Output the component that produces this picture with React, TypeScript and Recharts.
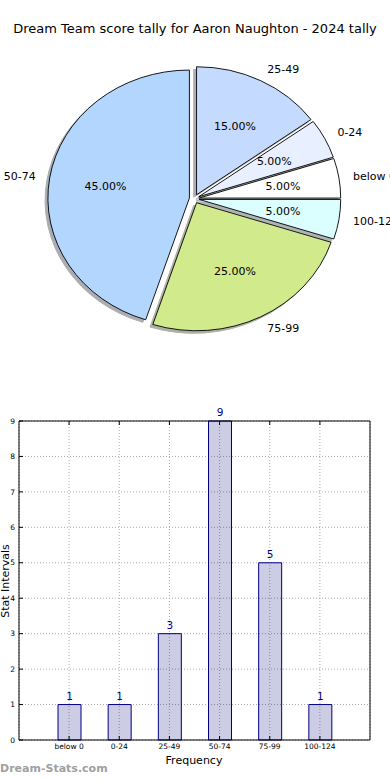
import React from 'react';
import { PieChart, Pie, Cell, BarChart, Bar, XAxis, YAxis, CartesianGrid, LabelList } from 'recharts';

// ---- data ----
const categories = ['below 0', '0-24', '25-49', '50-74', '75-99', '100-124'];
const counts = [1, 1, 3, 9, 5, 1];
const pieOrder = ['50-74', '75-99', '100-124', 'below 0', '0-24', '25-49'];
const pieColors: Record<string, string> = {
  '50-74': '#b3d6ff',
  '75-99': '#d1ea8c',
  '100-124': '#dbffff',
  'below 0': '#ffffff',
  '0-24': '#e8f0ff',
  '25-49': '#c4daff',
};
const yTicks = [0, 1, 2, 3, 4, 5, 6, 7, 8, 9];
const title = 'Dream Team score tally for Aaron Naughton - 2024 tally';

const pieData = pieOrder.map((n) => ({ name: n, value: counts[categories.indexOf(n)] }));
const barData = categories.map((c, i) => ({ name: c, value: counts[i] }));

// ---- geometry / style ----
const PIE_CX = 194.3;
const PIE_CY = 198.75;
const PIE_R = 141.5;
const RY_RATIO = 0.9046;
const EXPLODE = 0.035;
const SHADOW = 0.02;
const FONT = '"DejaVu Sans", sans-serif';
const RAD = Math.PI / 180;

function shade(hex: string, k: number) {
  const n = parseInt(hex.slice(1), 16);
  const r = (n >> 16) & 255, g = (n >> 8) & 255, b = n & 255;
  return `rgb(${Math.round(r * k)},${Math.round(g * k)},${Math.round(b * k)})`;
}

function wedgePath(cx: number, cy: number, rx: number, ry: number, a0: number, a1: number) {
  const x0 = cx + rx * Math.cos(a0 * RAD), y0 = cy - ry * Math.sin(a0 * RAD);
  const x1 = cx + rx * Math.cos(a1 * RAD), y1 = cy - ry * Math.sin(a1 * RAD);
  const large = Math.abs(a1 - a0) > 180 ? 1 : 0;
  const sweep = a1 > a0 ? 0 : 1;
  return `M${cx},${cy} L${x0},${y0} A${rx},${ry} 0 ${large} ${sweep} ${x1},${y1} Z`;
}

function origin(props: any) {
  const cx = props.cx ?? PIE_CX;
  const cy = props.cy ?? PIE_CY;
  const rx = props.outerRadius ?? PIE_R;
  const ry = rx * RY_RATIO;
  const m = (props.midAngle ?? (props.startAngle + props.endAngle) / 2) * RAD;
  return { ox: cx + EXPLODE * rx * Math.cos(m), oy: cy - EXPLODE * ry * Math.sin(m), rx, ry, m };
}

const Wedge = (props: any) => {
  const { ox, oy, rx, ry } = origin(props);
  return (
    <path
      d={wedgePath(ox, oy, rx, ry, props.startAngle, props.endAngle)}
      fill={props.fill}
      stroke="#000"
      strokeWidth={0.9}
      strokeLinejoin="round"
    />
  );
};

const ShadowWedge = (props: any) => {
  const { ox, oy, rx, ry } = origin(props);
  const c = shade(props.fill || '#ffffff', 0.3);
  return (
    <path
      d={wedgePath(ox - SHADOW * rx, oy + SHADOW * ry, rx, ry, props.startAngle, props.endAngle)}
      fill={c}
      stroke={c}
      strokeWidth={1}
      opacity={0.42}
    />
  );
};

const renderPieLabel = (props: any) => {
  const { ox, oy, rx, ry, m } = origin(props);
  const name = props.payload?.name ?? props.name;
  const pct = ((props.percent ?? 0) * 100).toFixed(2) + '%';
  const lx = ox + 1.1 * rx * Math.cos(m);
  const ly = oy - 1.1 * ry * Math.sin(m);
  const px = ox + 0.6 * rx * Math.cos(m);
  const py = oy - 0.6 * ry * Math.sin(m);
  return (
    <g>
      <text x={lx} y={ly} textAnchor={Math.cos(m) >= 0 ? 'start' : 'end'} dominantBaseline="central"
        fontSize={11} fill="#000" fontFamily={FONT}>{name}</text>
      <text x={px} y={py} textAnchor="middle" dominantBaseline="central"
        fontSize={11} fill="#000" fontFamily={FONT}>{pct}</text>
    </g>
  );
};

const emptyTick = () => '';

export default function App() {
  return (
    <div style={{ position: 'absolute', left: 0, top: 0, width: 390, height: 780, fontFamily: FONT, background: '#fff' }}>
      <div style={{ position: 'absolute', left: 0, top: 21, width: 390, textAlign: 'center', fontSize: 13, lineHeight: '16px', color: '#000', whiteSpace: 'nowrap' }}>
        {title}
      </div>
      <div style={{ position: 'absolute', left: 0, top: 0 }}>
        <PieChart width={390} height={360} margin={{ top: 0, right: 0, bottom: 0, left: 0 }}>
          <Pie data={pieData} dataKey="value" nameKey="name" cx={PIE_CX} cy={PIE_CY} outerRadius={PIE_R}
            startAngle={90} endAngle={450} isAnimationActive={false} labelLine={false}
            shape={ShadowWedge} activeShape={ShadowWedge} inactiveShape={ShadowWedge}>
            {pieData.map((d) => <Cell key={'s' + d.name} fill={pieColors[d.name]} />)}
          </Pie>
          <Pie data={pieData} dataKey="value" nameKey="name" cx={PIE_CX} cy={PIE_CY} outerRadius={PIE_R}
            startAngle={90} endAngle={450} isAnimationActive={false} labelLine={false} label={renderPieLabel}
            shape={Wedge} activeShape={Wedge} inactiveShape={Wedge}>
            {pieData.map((d) => <Cell key={d.name} fill={pieColors[d.name]} />)}
          </Pie>
        </PieChart>
      </div>
      <div style={{ position: 'absolute', left: 0, top: 400 }}>
        <BarChart width={390} height={380} data={barData} margin={{ top: 20, right: 19, bottom: 20, left: 0 }}>
          <CartesianGrid stroke="#aaaaaa" strokeDasharray="1 2" />
          <Bar dataKey="value" fill="#00007f" fillOpacity={0.2} stroke="#000080" strokeWidth={1} barSize={23} isAnimationActive={false}>
            <LabelList dataKey="value" position="top" offset={5} fill="#00008b" fontSize={10.5} fontFamily={FONT} />
          </Bar>
          <XAxis dataKey="name" padding={{ left: 25, right: 25 }} height={20} interval={0}
            tickSize={-4} tickMargin={8} axisLine={{ stroke: '#000' }} tickLine={{ stroke: '#000' }}
            tick={{ fontSize: 7.5, fill: '#000', fontFamily: FONT }} />
          <XAxis xAxisId="top" orientation="top" dataKey="name" padding={{ left: 25, right: 25 }} height={1} interval={0}
            tickSize={-4} tickFormatter={emptyTick} axisLine={{ stroke: '#000' }} tickLine={{ stroke: '#000' }} />
          <YAxis domain={[0, 9]} ticks={yTicks} width={19} interval={0}
            tickSize={-4} tickMargin={8} axisLine={{ stroke: '#000' }} tickLine={{ stroke: '#000' }}
            tick={{ fontSize: 7.5, fill: '#000', fontFamily: FONT }} />
          <YAxis yAxisId="right" orientation="right" domain={[0, 9]} ticks={yTicks} width={1} interval={0}
            tickSize={-4} tickFormatter={emptyTick} axisLine={{ stroke: '#000' }} tickLine={{ stroke: '#000' }} />
        </BarChart>
      </div>
      <div style={{ position: 'absolute', left: 5, top: 581, transform: 'translate(-50%, -50%) rotate(-90deg)', fontSize: 11, lineHeight: '13px', whiteSpace: 'nowrap', color: '#000' }}>
        Stat Intervals
      </div>
      <div style={{ position: 'absolute', left: 0, top: 754, width: 390, textAlign: 'center', fontSize: 11, lineHeight: '13px', color: '#000' }}>
        <span style={{ position: 'relative', left: -1 }}>Frequency</span>
      </div>
      <div style={{ position: 'absolute', left: 0, top: 762, fontSize: 11, lineHeight: '13px', fontWeight: 'bold', color: '#a0a0a0', whiteSpace: 'nowrap' }}>
        Dream-Stats.com
      </div>
    </div>
  );
}
